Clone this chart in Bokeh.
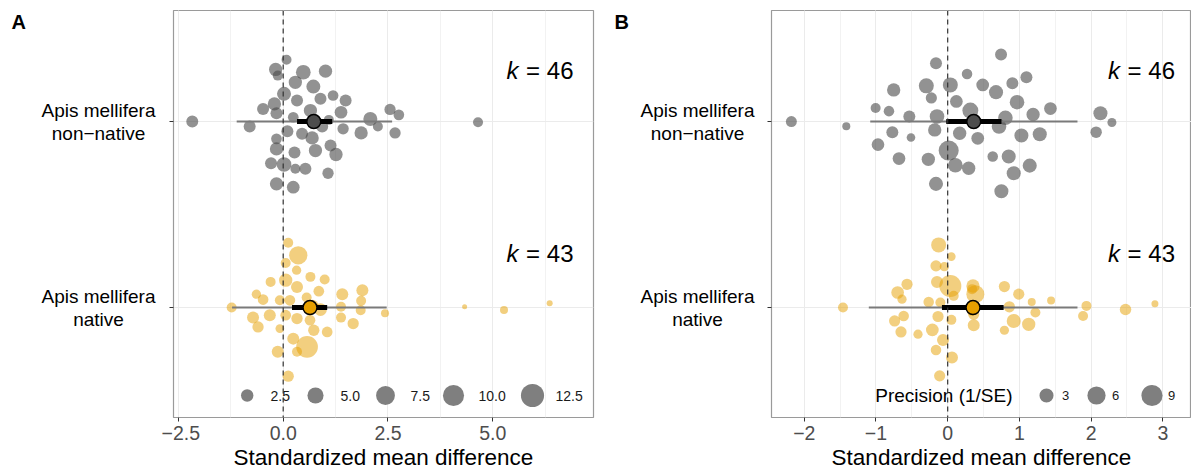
from bokeh.plotting import figure
from bokeh.models import (Range1d, FixedTicker, SingleIntervalTicker, Label, Span,
                          ColumnDataSource)
from bokeh.layouts import row
from bokeh.embed import file_html
from bokeh.resources import INLINE
from bokeh.core.properties import value
import math

FONT = "Liberation Sans"

# ---------------- data ----------------
groups = ["Apis mellifera\nnon\u2212native", "Apis mellifera\nnative"]
group_pos = [2, 1]
k_labels = ["46", "43"]

# Panel A : effect sizes, jitter (vertical spread), precision (1/SE)
a_nn_x = [-2.17, -0.80, 0.08, -0.18, -0.13, 0.48, 1.01, 0.29, 0.72, 0.02, 0.33, 0.89, 1.19, 1.49,
          -0.48, -0.21, -0.16, 0.65, 0.24, 1.38, 0.93, 0.10, 0.45, 0.69, -0.16, -0.16, 0.27, 0.77,
          1.13, 1.26, -0.29, 0.02, 0.29, 0.53, 1.07, -0.16, 0.24, 1.43, 1.86, 2.08, 2.26, 2.55,
          2.76, 2.67, 4.65, 1.09]
a_nn_j = [0.000, -0.027, 0.332, 0.280, 0.247, 0.265, 0.271, 0.211, 0.188, 0.149, 0.113, 0.122,
          0.140, 0.113, 0.068, 0.095, 0.045, 0.059, 0.023, 0.050, -0.027, -0.052, -0.066, -0.088,
          -0.093, -0.147, -0.167, -0.156, -0.129, -0.177, -0.224, -0.231, -0.254, -0.254, -0.278,
          -0.335, -0.353, -0.039, -0.061, 0.014, -0.027, 0.065, 0.036, -0.061, -0.004, 0.009]
a_nn_p = [2.29, 2.29, 1.41, 3.02, 1.41, 3.94, 3.02, 3.02, 3.46, 3.46, 2.29, 2.29, 1.69, 2.29,
          2.29, 3.02, 2.29, 3.02, 1.69, 2.67, 2.29, 2.29, 2.29, 3.02, 1.69, 3.02, 2.29, 3.02,
          2.29, 3.02, 2.29, 3.94, 1.41, 2.29, 1.95, 3.02, 2.67, 1.95, 3.02, 3.46, 1.41, 1.95,
          1.69, 1.95, 1.41, 1.41]

a_na_x = [0.12, 0.36, 0.06, 0.32, 0.65, 0.99, -0.30, 0.06, 0.33, 0.85, 1.41, 1.89, -0.64, -0.48,
          -0.08, 0.16, 0.56, -1.23, -0.72, -0.60, -0.32, 0.06, 0.33, 0.64, 0.89, 1.38, 1.38, 1.67,
          1.85, 1.86, 0.73, 1.05, -0.08, 0.24, 0.57, -0.13, 0.33, 0.12, 2.43, 4.33, 5.27, 6.36, 0.70]
a_na_j = [0.348, 0.281, 0.240, 0.201, 0.165, 0.151, 0.138, 0.147, 0.111, 0.088, 0.072, 0.093,
          0.072, 0.043, 0.039, 0.039, 0.054, 0.000, -0.054, -0.104, -0.041, -0.041, -0.059,
          -0.068, -0.011, 0.004, -0.054, -0.086, -0.014, 0.036, -0.122, -0.131, -0.113, -0.167,
          -0.211, -0.238, -0.238, -0.369, -0.030, 0.005, -0.013, 0.023, 0.010]
a_na_p = [1.41, 6.96, 1.41, 1.18, 1.41, 1.41, 1.41, 3.02, 2.29, 1.69, 2.29, 2.29, 1.18, 1.69,
          1.41, 1.69, 1.41, 1.41, 2.29, 1.95, 2.29, 1.69, 1.95, 1.69, 2.67, 1.41, 1.41, 1.95,
          1.41, 1.41, 1.95, 1.69, 1.00, 2.29, 10.7, 2.29, 1.41, 1.95, 0.83, 0.50, 0.83, 0.54, 2.29]

# Panel A summary: mean, CI low, CI high, PI low, PI high  (non-native, native)
a_mean = [0.73, 0.64]
a_ci_lo = [0.33, 0.21]
a_ci_hi = [1.17, 1.05]
a_pi_lo = [-1.11, -1.22]
a_pi_hi = [2.60, 2.47]

# Panel B
b_nn_x = [0.744, -0.163, 0.270, 1.098, 0.902, -0.753, -0.298, 0.037, 0.488, 0.674, -0.228, 0.121,
          0.967, -1.005, -0.819, -0.535, -0.149, 0.316, 0.805, 1.191, 1.433, -1.414, -0.772,
          -0.512, -0.181, 0.167, 0.419, 0.716, 1.028, 1.284, -0.972, 0.014, -0.679, -0.270,
          0.107, 0.293, 0.628, 0.851, 1.144, 0.921, -0.163, 0.749, -2.18, 2.13, 2.29, 2.07]
b_nn_j = [0.360, 0.314, 0.256, 0.238, 0.206, 0.170, 0.192, 0.197, 0.197, 0.158, 0.127, 0.108,
          0.104, 0.073, 0.056, 0.027, 0.027, 0.059, 0.020, 0.038, 0.070, -0.025, -0.057, -0.086,
          -0.045, -0.063, -0.090, -0.027, -0.075, -0.068, -0.124, -0.156, -0.199, -0.203, -0.235,
          -0.251, -0.188, -0.188, -0.237, -0.278, -0.335, -0.375, 0.000, 0.045, -0.005, -0.057]
b_nn_p = [2.0, 2.0, 1.5, 2.0, 2.0, 2.6, 3.56, 3.56, 2.3, 3.0, 1.7, 2.3, 3.3, 1.36, 1.5, 2.0, 3.3,
          4.2, 3.3, 2.6, 2.3, 1.04, 2.0, 1.1, 2.6, 2.6, 2.3, 3.3, 3.0, 3.0, 2.3, 7.8, 2.3, 2.6,
          3.3, 2.6, 1.5, 3.0, 3.0, 3.0, 3.0, 3.0, 1.64, 3.0, 1.16, 1.8]

b_na_x = [-0.126, 0.051, -0.163, -0.047, -0.149, 0.037, 0.084, -0.567, -0.698, -0.637, -0.265,
          -0.102, 0.353, 0.386, 0.791, 0.991, 1.172, 1.442, 0.860, 1.223, -0.614, -0.740, -0.135,
          0.051, 0.363, 0.363, 0.921, 1.130, 0.791, -0.651, -0.414, -0.214, -0.065, -0.163, 0.060,
          -0.112, -1.460, 1.935, 1.888, 2.48, 2.89, 0.340, 0.340]
b_na_j = [0.337, 0.274, 0.224, 0.220, 0.138, 0.116, 0.063, 0.125, 0.081, 0.045, 0.030, 0.027,
          0.116, 0.072, 0.113, 0.072, 0.030, 0.038, 0.004, -0.027, -0.045, -0.072, -0.048, -0.066,
          -0.036, -0.095, -0.072, -0.090, -0.122, -0.131, -0.143, -0.120, -0.174, -0.228, -0.269,
          -0.367, 0.000, 0.009, -0.045, -0.010, 0.020, 0.099, -0.018]
b_na_p = [3.56, 1.1, 1.7, 1.2, 2.0, 10.0, 1.36, 1.7, 2.3, 1.2, 1.5, 1.36, 2.6, 5.84, 1.7, 1.7,
          1.04, 1.04, 1.7, 1.36, 1.5, 1.7, 1.7, 1.36, 1.7, 2.0, 3.0, 2.6, 1.2, 1.7, 1.2, 2.3, 2.0,
          1.5, 2.0, 1.7, 1.36, 1.36, 1.36, 1.8, 1.0, 1.36, 1.36]

b_mean = [0.363, 0.353]
b_ci_lo = [-0.02, -0.08]
b_ci_hi = [0.75, 0.78]
b_pi_lo = [-1.08, -1.10]
b_pi_hi = [1.81, 1.81]

legA_vals = [2.5, 5.0, 7.5, 10.0, 12.5]
legA_text = ["2.5", "5.0", "7.5", "10.0", "12.5"]
legB_vals = [3, 6, 9]
legB_text = ["3", "6", "9"]

# ---------------- styling / layout ----------------
PT_COLORS = ["#4a4a4a", "#E69F00"]
PT_ALPHA = [0.6, 0.5]
MEAN_FILL = ["#4d4d4d", "#E69F00"]

YR = (0.409, 2.597)
FRAME_H = 407
TOP = 10
BOTTOM = 58
PX_PER_Y = FRAME_H / (YR[1] - YR[0])
FRAME_BOTTOM_PAGE = TOP + FRAME_H


def size_a(v):
    return 5 + 18.5 * math.sqrt(max(v - 0.5, 0) / 12.5)


def size_b(v):
    return 7 + 15 * math.sqrt(max(v - 1.0, 0) / 9.0)


def py2y(py):
    return YR[0] + (FRAME_BOTTOM_PAGE - py) / PX_PER_Y


def make_label_panel(letter, width, letter_x, label_cx):
    """Left margin strip holding the panel letter and the group labels."""
    q = figure(frame_width=width, frame_height=FRAME_H,
               x_range=Range1d(0, width), y_range=Range1d(*YR),
               min_border_left=0, min_border_right=0,
               min_border_top=TOP, min_border_bottom=BOTTOM,
               x_axis_type=None, y_axis_type=None,
               output_backend="svg", toolbar_location=None,
               background_fill_color="white", border_fill_color="white")
    q.outline_line_color = None
    q.grid.visible = False
    q.text(x=[label_cx] * 2, y=group_pos, text=groups, text_align="center",
           text_baseline="middle", text_font=value(FONT), text_font_size="19px",
           text_color="black", text_line_height=1.1)
    q.text(x=[letter_x], y=[py2y(10)], text=[letter], text_align="left",
           text_baseline="top", text_font=value(FONT), text_font_size="20px",
           text_font_style="bold", text_color="black")
    return q


def make_panel(xr, frame_left_page, frame_w, border_left, border_right,
               ticker, overrides, data, summary, sizefun, legend, k_right_px):
    x0, x1 = xr
    pxu = frame_w / (x1 - x0)

    def px2x(px):
        return x0 + (px - frame_left_page) / pxu

    p = figure(frame_width=frame_w, frame_height=FRAME_H,
               x_range=Range1d(x0, x1), y_range=Range1d(*YR),
               min_border_left=border_left, min_border_right=border_right,
               min_border_top=TOP, min_border_bottom=BOTTOM,
               output_backend="svg", toolbar_location=None,
               background_fill_color="white", border_fill_color="white")
    p.outline_line_color = "#9a9a9a"
    p.outline_line_width = 1.2

    # grids
    p.xaxis.ticker = ticker
    p.xgrid.grid_line_color = "#ebebeb"
    p.xgrid.grid_line_width = 1
    p.xgrid.minor_grid_line_color = "#f2f2f2"
    p.xgrid.minor_grid_line_width = 1
    p.yaxis.ticker = FixedTicker(ticks=group_pos)
    p.ygrid.grid_line_color = "#ebebeb"

    # axes
    p.xaxis.major_label_overrides = overrides
    p.xaxis.major_label_text_font = FONT
    p.xaxis.major_label_text_font_size = "19.5px"
    p.xaxis.major_label_text_color = "#4d4d4d"
    p.xaxis.major_label_standoff = 4
    p.xaxis.axis_label = "Standardized mean difference"
    p.xaxis.axis_label_text_font = FONT
    p.xaxis.axis_label_text_font_size = "22.5px"
    p.xaxis.axis_label_text_font_style = "normal"
    p.xaxis.axis_label_text_color = "black"
    p.xaxis.axis_label_standoff = 2
    for ax in (p.xaxis, p.yaxis):
        ax.axis_line_color = None
        ax.major_tick_line_color = "#333333"
        ax.major_tick_in = 0
        ax.major_tick_out = 4
        ax.minor_tick_line_color = None
    p.yaxis.major_label_overrides = {1: "", 2: ""}
    p.yaxis.major_label_standoff = 0

    # data points
    for gi in range(2):
        xs, js, ps = data[gi]
        src = ColumnDataSource(dict(
            x=xs, y=[group_pos[gi] + j for j in js], s=[sizefun(v) for v in ps]))
        p.scatter(x="x", y="y", size="s", source=src, fill_color=PT_COLORS[gi],
                  fill_alpha=PT_ALPHA[gi], line_color=None)

    mean, ci_lo, ci_hi, pi_lo, pi_hi = summary
    p.segment(x0=pi_lo, x1=pi_hi, y0=group_pos, y1=group_pos, line_color="#7a7a7a",
              line_width=2)
    p.segment(x0=ci_lo, x1=ci_hi, y0=group_pos, y1=group_pos, line_color="black",
              line_width=5)
    p.scatter(x=mean, y=group_pos, size=14, fill_color=MEAN_FILL, line_color="black",
              line_width=1.5)

    p.add_layout(Span(location=0, dimension="height", line_color="#333333",
                      line_dash="5 4", line_width=1.2))

    # k labels
    k_y = [py2y(70), py2y(253)]
    for gi in range(2):
        p.add_layout(Label(x=px2x(k_right_px), y=k_y[gi], text="= " + k_labels[gi],
                           text_align="right", text_baseline="middle", text_font=FONT,
                           text_font_size="24px", text_color="black"))
        p.add_layout(Label(x=px2x(k_right_px), y=k_y[gi], text="k", x_offset=-55,
                           text_align="right", text_baseline="middle", text_font=FONT,
                           text_font_size="24px", text_font_style="italic",
                           text_color="black"))

    # size legend
    leg_vals, leg_text, circ_px, text_px, text_align, tsize, title = legend
    ly = py2y(395)
    p.scatter(x=[px2x(c) for c in circ_px], y=[ly] * len(circ_px),
              size=[sizefun(v) for v in leg_vals], fill_color="#7f7f7f", line_color=None)
    p.text(x=[px2x(t) for t in text_px], y=[ly] * len(text_px), text=leg_text,
           text_align=text_align, text_baseline="middle", text_font=value(FONT),
           text_font_size=tsize, text_color="#1a1a1a")
    if title:
        ttext, tpx = title
        p.text(x=[px2x(tpx)], y=[ly], text=[ttext], text_align="right",
               text_baseline="middle", text_font=value(FONT), text_font_size="19px",
               text_color="black")
    return p


tickA = SingleIntervalTicker(interval=2.5, num_minor_ticks=2)
ovA = {-2.5: "\u22122.5", 0: "0.0", 2.5: "2.5", 5: "5.0", 7.5: "7.5"}
tickB = SingleIntervalTicker(interval=1, num_minor_ticks=2)
ovB = {-2: "\u22122", -1: "\u22121", 0: "0", 1: "1", 2: "2", 3: "3"}

# panel A: label strip 0..161, plot 161..600 (frame 173..593)
labA = make_label_panel("A", 161, 11, 98)
pA = make_panel((-2.618, 7.406), 173, 420, 12, 7, tickA, ovA,
                [(a_nn_x, a_nn_j, a_nn_p), (a_na_x, a_na_j, a_na_p)],
                (a_mean, a_ci_lo, a_ci_hi, a_pi_lo, a_pi_hi), size_a,
                (legA_vals, legA_text, [246.7, 315, 385, 453, 532],
                 [270, 340, 410, 478, 555], "left", "14px", None), 573)

# panel B: label strip 600..759, plot 759..1191 (frame 771..1191)
labB = make_label_panel("B", 159, 14, 97)
pB = make_panel((-2.457, 3.400), 771, 420, 12, 0, tickB, ovB,
                [(b_nn_x, b_nn_j, b_nn_p), (b_na_x, b_na_j, b_na_p)],
                (b_mean, b_ci_lo, b_ci_hi, b_pi_lo, b_pi_hi), size_b,
                (legB_vals, legB_text, [1046, 1096, 1151.5],
                 [1065, 1115, 1171], "center", "13px", ("Precision (1/SE)", 1012)), 1174.5)

layout = row(labA, pA, labB, pB)
open("out.html", "w").write(file_html(layout, INLINE))
